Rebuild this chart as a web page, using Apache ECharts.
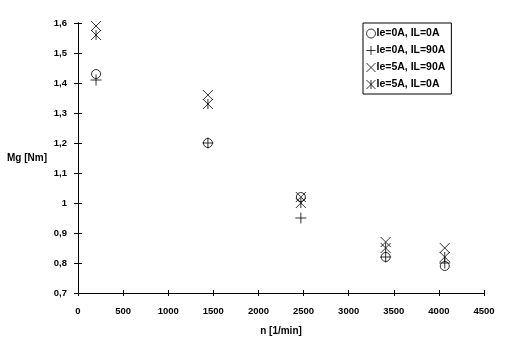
<!DOCTYPE html>
<html>
<head>
<meta charset="utf-8">
<script src="https://cdn.jsdelivr.net/npm/echarts@6/dist/echarts.min.js"></script>
<style>
html,body{margin:0;padding:0;background:#fff;}
#c{width:512px;height:345px;}
</style>
</head>
<body>
<div id="c"></div>
<script>
// Data
const seriesNames = ['Ie=0A, IL=0A', 'Ie=0A, IL=90A', 'Ie=5A, IL=90A', 'Ie=5A, IL=0A'];
const speed = [200, 1440, 2470, 3410, 4065];          // n [1/min]
const mg_Ie0_IL0  = [1.43, 1.20, 1.02, 0.82, 0.79];
const mg_Ie0_IL90 = [1.41, 1.20, 0.95, 0.82, 0.80];
const mg_Ie5_IL90 = [1.59, 1.36, 1.02, 0.87, 0.85];
const mg_Ie5_IL0  = [1.56, 1.33, 1.00, 0.85, 0.82];
const xTicks = {min: 0, max: 4500, interval: 500};
const yTicks = {min: 0.7, max: 1.6, interval: 0.1};

const pairs = (ys) => speed.map((x, i) => [x, ys[i]]);

const FONT = 'Liberation Sans, Arial, sans-serif';
const symCross = 'path://M0,0L10,10M10,0L0,10';
const symPlus = 'path://M5,0L5,10M0,5L10,5';
const symAst = 'path://M0,0L10,10M10,0L0,10M5,0L5,10';

const yFmt = v => {
  const r = Math.round(v * 10) / 10;
  return String(r).replace('.', ',');
};
const xFmt = v => String(Math.round(v));

const lineStyle = {color: '#000', width: 1};
const baseX = {
  type: 'value', min: xTicks.min, max: xTicks.max, interval: xTicks.interval,
  axisLine: {show: true, lineStyle: lineStyle},
  splitLine: {show: false}
};
const baseY = {
  type: 'value', min: yTicks.min, max: yTicks.max, interval: yTicks.interval,
  axisLine: {show: true, lineStyle: lineStyle},
  splitLine: {show: false}
};
const markStyle = {color: 'rgba(0,0,0,0)', borderColor: '#000', borderWidth: 1};

const chart = echarts.init(document.getElementById('c'), null, {renderer: 'canvas'});
chart.setOption({
  backgroundColor: '#fff',
  animation: false,
  grid: {left: 78, right: 28, top: 23, bottom: 52, containLabel: false},
  xAxis: [
    Object.assign({}, baseX, {
      name: 'n [1/min]', nameLocation: 'middle', nameGap: 33,
      nameTextStyle: {fontFamily: FONT, fontWeight: 'bold', fontSize: 10, color: '#000'},
      axisTick: {show: true, inside: false, length: 3, lineStyle: lineStyle},
      axisLabel: {show: true, margin: 13, formatter: xFmt, fontFamily: FONT, fontWeight: 'bold', fontSize: 9.5, color: '#000'}
    }),
    Object.assign({}, baseX, {
      gridIndex: 0, position: 'bottom',
      axisTick: {show: true, inside: true, length: 3, lineStyle: lineStyle},
      axisLabel: {show: false}
    })
  ],
  yAxis: [
    Object.assign({}, baseY, {
      name: 'Mg [Nm]', nameLocation: 'middle', nameRotate: 0, nameGap: 31,
      nameTextStyle: {fontFamily: FONT, fontWeight: 'bold', fontSize: 10, color: '#000', align: 'right', verticalAlign: 'middle'},
      axisTick: {show: true, inside: false, length: 4, lineStyle: lineStyle},
      axisLabel: {show: true, margin: 11, formatter: yFmt, fontFamily: FONT, fontWeight: 'bold', fontSize: 9.5, color: '#000'}
    }),
    Object.assign({}, baseY, {
      gridIndex: 0, position: 'left',
      axisTick: {show: true, inside: true, length: 4, lineStyle: lineStyle},
      axisLabel: {show: false}
    })
  ],
  legend: {
    orient: 'vertical', left: 363, top: 23,
    padding: [5, 6, 4, 3],
    itemGap: 6, itemWidth: 9, itemHeight: 9,
    backgroundColor: '#fff',
    borderColor: '#000', borderWidth: 1, borderRadius: 0,
    itemStyle: {borderWidth: 1},
    textStyle: {fontFamily: FONT, fontWeight: 'bold', fontSize: 10.5, color: '#000', padding: [0, 0, 0, -4]},
    data: seriesNames
  },
  series: [
    {name: seriesNames[0], type: 'scatter', data: pairs(mg_Ie0_IL0), symbol: 'circle', symbolSize: 9,
     itemStyle: markStyle},
    {name: seriesNames[1], type: 'scatter', data: pairs(mg_Ie0_IL90), symbol: symPlus, symbolSize: 11,
     itemStyle: markStyle},
    {name: seriesNames[2], type: 'scatter', data: pairs(mg_Ie5_IL90), symbol: symCross, symbolSize: 10,
     itemStyle: markStyle},
    {name: seriesNames[3], type: 'scatter', data: pairs(mg_Ie5_IL0), symbol: symAst, symbolSize: 10,
     itemStyle: markStyle}
  ]
});
</script>
</body>
</html>
